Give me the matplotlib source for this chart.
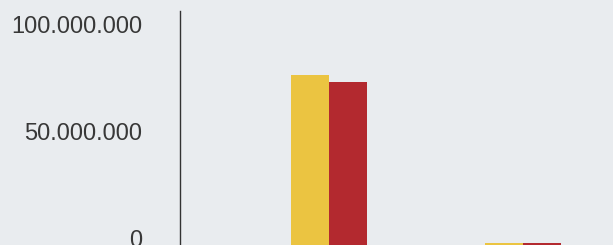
import matplotlib.pyplot as plt
import numpy as np

plt.rcParams['font.family'] = ['Liberation Sans', 'DejaVu Sans']

categories = ['A', 'B']
series_yellow = [80_400_000, 1_900_000]
series_red = [77_100_000, 1_900_000]
tick_values = [0, 50_000_000, 100_000_000]
tick_labels = ['0', '50.000.000', '100.000.000']

bg = '#e9ecef'
fig = plt.figure(figsize=(6.13, 2.45), dpi=100)
fig.patch.set_facecolor(bg)
ax = fig.add_axes([180 / 613, -2 / 245, 433 / 613, 236 / 245])
ax.set_facecolor(bg)

x = np.arange(len(categories))
w = 0.196
ax.bar(x - w / 2, series_yellow, width=w, color='#ebc441')
ax.bar(x + w / 2, series_red, width=w, color='#b3292f')

ax.set_xlim(-0.768, 1.464)
ax.set_ylim(0, 110_300_000)

for s in ['top', 'right', 'bottom']:
    ax.spines[s].set_visible(False)
ax.spines['left'].set_color('#333333')
ax.spines['left'].set_linewidth(1)
ax.set_xticks([])
ax.set_yticks(tick_values)
ax.set_yticklabels(tick_labels, fontsize=17, color='#383838', va='baseline')
ax.tick_params(axis='y', length=0, pad=27)

fig.savefig('out.png', dpi=100, facecolor=bg)
